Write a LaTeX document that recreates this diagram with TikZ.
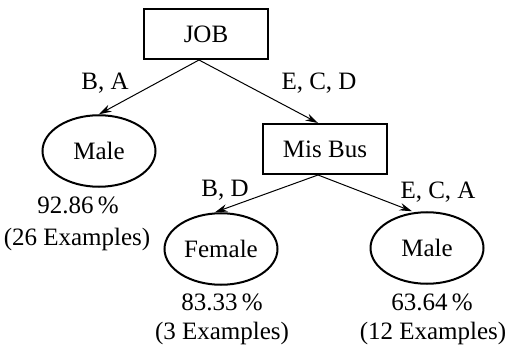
\documentclass[tikz,border=0pt]{standalone}
\usepackage{fontspec}
\setmainfont{Liberation Serif}
\usetikzlibrary{shapes.geometric, arrows.meta}

\begin{document}
\begin{tikzpicture}
        [x=0.4pt, y=-0.4pt, every node/.style={inner sep=0, font=\fontsize{10}{12}\selectfont},
         box/.style={draw, rectangle, line width=0.8pt, minimum width=49.6pt, minimum height=20pt},
         leaf/.style={draw, ellipse, line width=0.8pt, minimum width=45.2pt, minimum height=28.6pt},
         every draw/.style={line width=0.4pt, black}]

        \useasboundingbox (0, 0) rectangle (505, 345);

        \node[box] (job) at (206, 34) {JOB};
        \node[leaf] (male1) at (99, 151) {Male};
        \node[box] (misbus) at (325, 149) {Mis Bus};
        \node[leaf] (female) at (221, 249) {Female};
        \node[leaf] (male2) at (427, 248) {Male};

        \node (ba) at (105, 83) {B, A};
        \node (ecd) at (319, 83) {E, C, D};
        \node (bd) at (225, 190) {B, D};
        \node (eca) at (438, 192) {E, C, A};

        \node (acc1) at (78, 205) {92.86\,\%};
        \node (ex1) at (77, 239) {(26 Examples)};
        \node (acc2) at (222, 302) {83.33\,\%};
        \node (ex2) at (222, 333) {(3 Examples)};
        \node (acc3) at (432, 302) {63.64\,\%};
        \node (ex3) at (433, 333) {(12 Examples)};

        \draw[-{Stealth[length=5pt, width=3pt]}] ([xshift=-2.8pt]job.south) -- (male1.north);
        \draw[-{Stealth[length=5pt, width=3pt]}] ([xshift=-2.8pt]job.south) -- ([xshift=-2.8pt]misbus.north);
        \draw[-{Stealth[length=5pt, width=3pt]}] ([xshift=-2.8pt]misbus.south) -- ([xshift=-2.4pt]female.north);
        \draw[-{Stealth[length=5pt, width=3pt]}] ([xshift=-2.8pt]misbus.south) -- ([xshift=-6pt]male2.north);
      \end{tikzpicture}
\end{document}
